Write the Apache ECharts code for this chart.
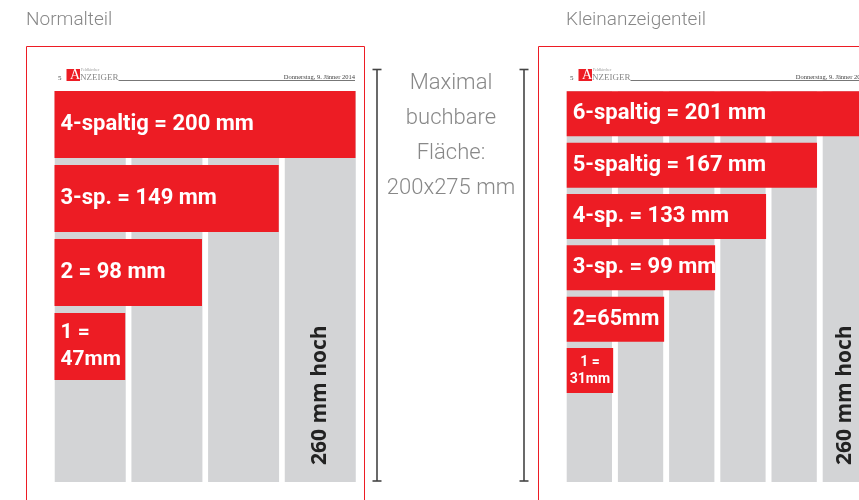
<!DOCTYPE html>
<html>
<head>
<meta charset="utf-8">
<title>Normalteil / Kleinanzeigenteil</title>
<script src="https://cdn.jsdelivr.net/npm/echarts@6/dist/echarts.min.js"></script>
<style>
  html, body { margin: 0; padding: 0; background: #fff; }
  #main { width: 859px; height: 500px; }
</style>
</head>
<body>
<div id="main"></div>
<script>
// Normalteil: Breiten der Anzeigen (mm)
var leftCats = ['4-spaltig', '3-sp.', '2', '1'];
var leftWidths = [200, 149, 98, 47];
var leftLabels = ['4-spaltig = 200 mm', '3-sp. = 149 mm', '2 = 98 mm', '1 =\n47mm'];
var leftColumns = [260, 260, 260, 260];

// Kleinanzeigenteil
var rightCats = ['6-spaltig', '5-spaltig', '4-sp.', '3-sp.', '2', '1'];
var rightWidths = [201, 167, 133, 99, 65, 31];
var rightLabels = ['6-spaltig = 201 mm', '5-spaltig = 167 mm', '4-sp. = 133 mm', '3-sp. = 99 mm', '2=65mm', '1 =\n31mm'];
var rightColumns = [260, 260, 260, 260, 260, 260];

var pageHeight = 260;
var heightLabel = '260 mm hoch';
var maxText = ['Maximal', 'buchbare', 'Fläche:', '200x275 mm'];
var titles = ['Normalteil', 'Kleinanzeigenteil'];

var RED = '#ed1c24';
var GRAY = '#d3d4d6';
var FONT = 'Roboto, "Noto Sans", sans-serif';

// graue Spalten, letzte mit Hoehenangabe
function columnSeries(gridIndex, data, width){
    return {
        type: 'bar',
        xAxisIndex: gridIndex,
        yAxisIndex: gridIndex,
        barWidth: width,
        clip: false,
        z: 1,
        itemStyle: { color: GRAY },
        data: data.map(function(v, i){
            var item = { value: v };
            if(i === data.length - 1){
                item.label = {
                    show: true,
                    formatter: heightLabel,
                    position: 'insideBottom',
                    rotate: 90,
                    align: 'left',
                    verticalAlign: 'middle',
                    distance: 17,
                    color: '#222',
                    fontFamily: '"Open Sans", sans-serif',
                    fontWeight: 'bold',
                    fontSize: 21
                };
            }
            return item;
        })
    };
}

// rote Anzeigenbalken
function redSeries(gridIndex, widths, labels, width, special){
    return {
        type: 'bar',
        xAxisIndex: gridIndex,
        yAxisIndex: gridIndex,
        barWidth: width,
        clip: false,
        z: 3,
        itemStyle: { color: RED },
        label: {
            show: true,
            position: 'insideLeft',
            distance: 6,
            color: '#fff',
            fontFamily: FONT,
            fontWeight: 'bold',
            fontSize: 22
        },
        data: widths.map(function(v, i){
            var lab = { formatter: labels[i] };
            var s = special[i];
            if(s){
                lab.fontSize = s.size;
                lab.lineHeight = s.lh;
                if(s.center){
                    lab.position = 'inside';
                    lab.align = 'center';
                }
            }
            return { value: v, label: lab };
        })
    };
}

function header(dx){
    return [
        { type: 'text', left: 58 + dx, top: 75, style: { text: '5', font: '7px "Liberation Serif"', fill: '#444' } },
        { type: 'rect', shape: { x: 66.5 + dx, y: 69, width: 13.5, height: 12 }, style: { fill: RED } },
        { type: 'text', left: 70 + dx, top: 68, style: { text: 'A', font: '14px "Liberation Serif"', fill: '#fff' } },
        { type: 'text', left: 81 + dx, top: 67.5, style: { text: 'Feldkircher', font: '4px "Liberation Serif"', fill: '#999' } },
        { type: 'text', left: 80 + dx, top: 73, style: { text: 'NZEIGER', font: '9px "Liberation Serif"', fill: '#888' } },
        { type: 'line', shape: { x1: 118.5 + dx, y1: 80.5, x2: 355 + dx, y2: 80.5 }, style: { stroke: '#777', lineWidth: 1 } },
        { type: 'text', x: 355 + dx, y: 74, style: { text: 'Donnerstag, 9. Jänner 2014', font: '6.5px "Liberation Serif"', fill: '#444', align: 'right' } }
    ];
}

function bracket(x){
    return [
        { type: 'line', shape: { x1: x, y1: 69, x2: x, y2: 481 }, style: { stroke: '#444', lineWidth: 1.6 } },
        { type: 'line', shape: { x1: x - 4.5, y1: 69.5, x2: x + 4.5, y2: 69.5 }, style: { stroke: '#444', lineWidth: 1.6 } },
        { type: 'line', shape: { x1: x - 4.5, y1: 481, x2: x + 4.5, y2: 481 }, style: { stroke: '#444', lineWidth: 1.6 } }
    ];
}

var chart = echarts.init(document.getElementById('main'), null, { renderer: 'canvas' });

var graphics = [
    { type: 'rect', shape: { x: 26.5, y: 46.5, width: 338, height: 500 }, style: { fill: 'none', stroke: RED, lineWidth: 1 }, z: 0 },
    { type: 'rect', shape: { x: 538.5, y: 46.5, width: 400, height: 500 }, style: { fill: 'none', stroke: RED, lineWidth: 1 }, z: 0 },
    { type: 'text', left: 26, top: 11, style: { text: titles[0], font: '300 19px ' + FONT, fill: '#888' } },
    { type: 'text', left: 566, top: 11, style: { text: titles[1], font: '300 19px ' + FONT, fill: '#888' } }
];
graphics = graphics.concat(header(0), header(512), bracket(377), bracket(524));
maxText.forEach(function(t, i){
    graphics.push({ type: 'text', x: 451, y: 83 + i * 35, style: { text: t, font: '300 22px ' + FONT, fill: '#888', align: 'center', verticalAlign: 'middle' } });
});

var option = {
    animation: false,
    grid: [
        { left: 51.9, top: 91, width: 306.7, height: 391, outerBoundsMode: 'none' },
        { left: 54.5, top: 87.5, width: 301, height: 296, outerBoundsMode: 'none' },
        { left: 563.75, top: 91, width: 307.2, height: 391, outerBoundsMode: 'none' },
        { left: 566.7, top: 88.2, width: 301.3, height: 308, outerBoundsMode: 'none' }
    ],
    xAxis: [
        { gridIndex: 0, type: 'category', data: leftColumns.map(function(v, i){ return 'c' + i; }), show: false },
        { gridIndex: 1, type: 'value', min: 0, max: 200, show: false },
        { gridIndex: 2, type: 'category', data: rightColumns.map(function(v, i){ return 'c' + i; }), show: false },
        { gridIndex: 3, type: 'value', min: 0, max: 201, show: false }
    ],
    yAxis: [
        { gridIndex: 0, type: 'value', min: 0, max: pageHeight, show: false },
        { gridIndex: 1, type: 'category', inverse: true, data: leftCats, show: false },
        { gridIndex: 2, type: 'value', min: 0, max: pageHeight, show: false },
        { gridIndex: 3, type: 'category', inverse: true, data: rightCats, show: false }
    ],
    graphic: graphics,
    series: [
        columnSeries(0, leftColumns, 71),
        redSeries(1, leftWidths, leftLabels, 67, { 3: { size: 21, lh: 27 } }),
        columnSeries(2, rightColumns, 45.3),
        redSeries(3, rightWidths, rightLabels, 45, { 4: { size: 21.5, lh: 24 }, 5: { size: 14, lh: 17, center: true } })
    ]
};

chart.setOption(option);
</script>
</body>
</html>
